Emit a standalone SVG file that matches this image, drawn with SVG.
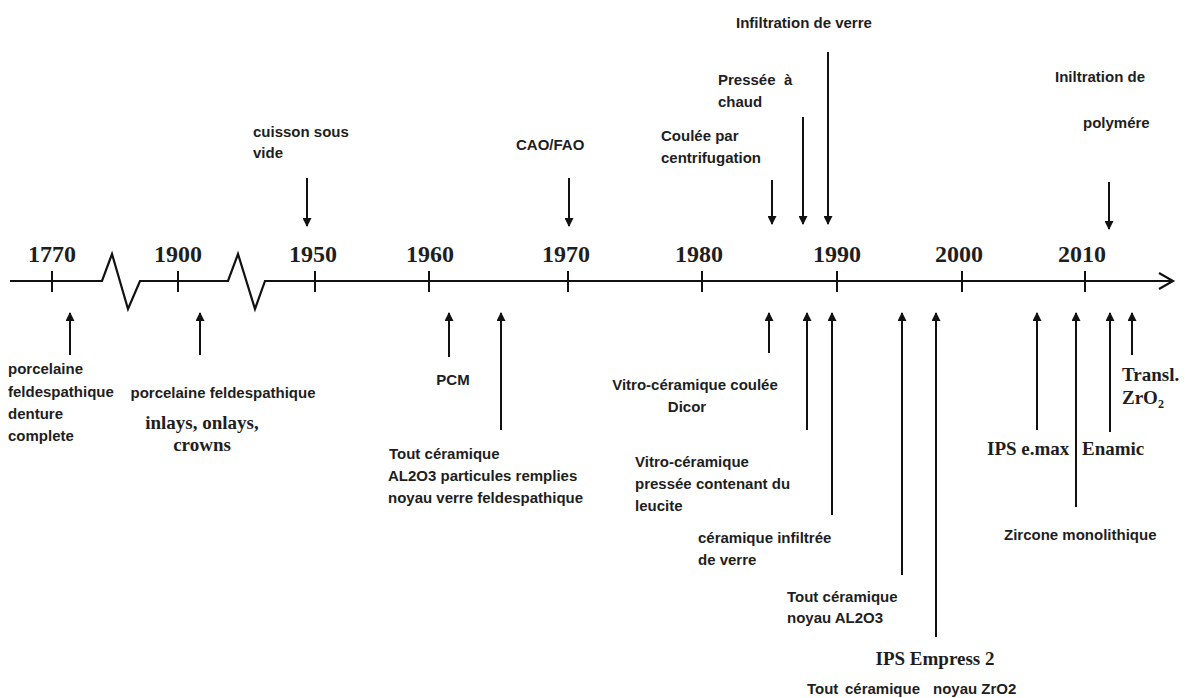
<svg xmlns="http://www.w3.org/2000/svg" width="1185" height="698" viewBox="0 0 1185 698">
<style>
.s{font-family:"Liberation Sans",Arial,sans-serif;font-weight:bold;font-size:15px;fill:#1e1e1e}
.r{font-family:"Liberation Serif","Times New Roman",serif;font-weight:bold;font-size:19px;fill:#1e1e1e}
.y{font-family:"Liberation Serif","Times New Roman",serif;font-weight:bold;font-size:24px;fill:#1e1e1e;text-anchor:middle}
.m{text-anchor:middle}
.ax{fill:none;stroke:#111;stroke-width:2.2}
.tk{stroke:#111;stroke-width:2}
.ar{stroke:#111;stroke-width:2;fill:none;marker-end:url(#ah)}
</style>
<defs>
<marker id="ah" viewBox="0 0 10 10" refX="9" refY="5" markerWidth="11" markerHeight="9" markerUnits="userSpaceOnUse" orient="auto">
<path d="M0,0 L10,5 L0,10 z" fill="#111"/>
</marker>
</defs>
<rect width="1185" height="698" fill="#fff"/>
<g id="axis">
<path class="ax" d="M10,281 L102,281 L112,254 L128,309 L140,281 L228,281 L238,254 L255,309 L265,281 L1172,281"/>
<polyline class="ax" points="1159,273 1173,281 1159,289"/>
<g>
<line class="tk" x1="52" y1="271" x2="52" y2="292"/>
<line class="tk" x1="178" y1="271" x2="178" y2="292"/>
<line class="tk" x1="315" y1="271" x2="315" y2="292"/>
<line class="tk" x1="429" y1="271" x2="429" y2="292"/>
<line class="tk" x1="568" y1="271" x2="568" y2="292"/>
<line class="tk" x1="702" y1="271" x2="702" y2="292"/>
<line class="tk" x1="837" y1="271" x2="837" y2="292"/>
<line class="tk" x1="962" y1="271" x2="962" y2="292"/>
<line class="tk" x1="1085" y1="271" x2="1085" y2="292"/>
</g>
<text class="y" x="52" y="262">1770</text>
<text class="y" x="178" y="262">1900</text>
<text class="y" x="313" y="262">1950</text>
<text class="y" x="430" y="262">1960</text>
<text class="y" x="566" y="262">1970</text>
<text class="y" x="699" y="262">1980</text>
<text class="y" x="837" y="262">1990</text>
<text class="y" x="959" y="262">2000</text>
<text class="y" x="1082" y="262">2010</text>
</g>
<g id="connectors">
<line class="ar" x1="307" y1="178" x2="307" y2="226"/>
<line class="ar" x1="569" y1="178" x2="569" y2="226"/>
<line class="ar" x1="772" y1="180" x2="772" y2="224"/>
<line class="ar" x1="803" y1="117" x2="803" y2="224"/>
<line class="ar" x1="828" y1="52" x2="828" y2="224"/>
<line class="ar" x1="1109" y1="182" x2="1109" y2="229"/>
<line class="ar" x1="70" y1="355" x2="70" y2="313"/>
<line class="ar" x1="200" y1="355" x2="200" y2="313"/>
<line class="ar" x1="449" y1="357" x2="449" y2="313"/>
<line class="ar" x1="501" y1="430" x2="501" y2="313"/>
<line class="ar" x1="769" y1="353" x2="769" y2="313"/>
<line class="ar" x1="807" y1="430" x2="807" y2="313"/>
<line class="ar" x1="832" y1="515" x2="832" y2="313"/>
<line class="ar" x1="902" y1="575" x2="902" y2="313"/>
<line class="ar" x1="936" y1="637" x2="936" y2="313"/>
<line class="ar" x1="1037" y1="430" x2="1037" y2="313"/>
<line class="ar" x1="1076" y1="507" x2="1076" y2="313"/>
<line class="ar" x1="1110" y1="432" x2="1110" y2="313"/>
<line class="ar" x1="1132" y1="355" x2="1132" y2="313"/>
</g>
<g id="n-cuisson"><text class="s" x="253" y="137">cuisson sous</text><text class="s" x="253" y="158">vide</text></g>
<g id="n-cao"><text class="s" x="516" y="150">CAO/FAO</text></g>
<g id="n-coulee"><text class="s" x="661" y="141">Coulée par</text><text class="s" x="661" y="163">centrifugation</text></g>
<g id="n-pressee"><text class="s" x="718" y="85" xml:space="preserve">Pressée  à</text><text class="s" x="718" y="107">chaud</text></g>
<g id="n-infiltration"><text class="s" x="736" y="28">Infiltration de verre</text></g>
<g id="n-polymere"><text class="s" x="1055" y="82">Iniltration de</text><text class="s" x="1083" y="128">polymére</text></g>
<g id="n-1770"><text class="s" x="8" y="374">porcelaine</text><text class="s" x="8" y="397">feldespathique</text><text class="s" x="8" y="419">denture</text><text class="s" x="8" y="441">complete</text></g>
<g id="n-1900"><text class="s m" x="223" y="398">porcelaine feldespathique</text><text class="r m" x="202" y="429">inlays, onlays,</text><text class="r m" x="202" y="451">crowns</text></g>
<g id="n-pcm"><text class="s m" x="453" y="385">PCM</text></g>
<g id="n-tout1"><text class="s" x="389" y="459">Tout céramique</text><text class="s" x="388" y="481">AL2O3 particules remplies</text><text class="s" x="388" y="503">noyau verre feldespathique</text></g>
<g id="n-dicor"><text class="s m" x="695" y="390">Vitro-céramique coulée</text><text class="s m" x="687" y="412">Dicor</text></g>
<g id="n-leucite"><text class="s" x="635" y="467">Vitro-céramique</text><text class="s" x="635" y="489">pressée contenant du</text><text class="s" x="635" y="511">leucite</text></g>
<g id="n-infiltree"><text class="s" x="698" y="543">céramique infiltrée</text><text class="s" x="698" y="565">de verre</text></g>
<g id="n-al2o3"><text class="s" x="787" y="602">Tout céramique</text><text class="s" x="787" y="623">noyau AL2O3</text></g>
<g id="n-empress"><text class="r m" x="935" y="665">IPS Empress 2</text><text class="s" y="694"><tspan x="807">Tout</tspan><tspan x="845">céramique</tspan><tspan x="933">noyau ZrO2</tspan></text></g>
<g id="n-emax"><text class="r" x="987" y="455">IPS e.max</text></g>
<g id="n-enamic"><text class="r" x="1082" y="455">Enamic</text></g>
<g id="n-zircone"><text class="s" x="1004" y="540">Zircone monolithique</text></g>
<g id="n-transl"><text class="r" x="1122" y="381">Transl.</text><text class="r" x="1122" y="404">ZrO<tspan font-size="12" dy="4">2</tspan></text></g>
</svg>
